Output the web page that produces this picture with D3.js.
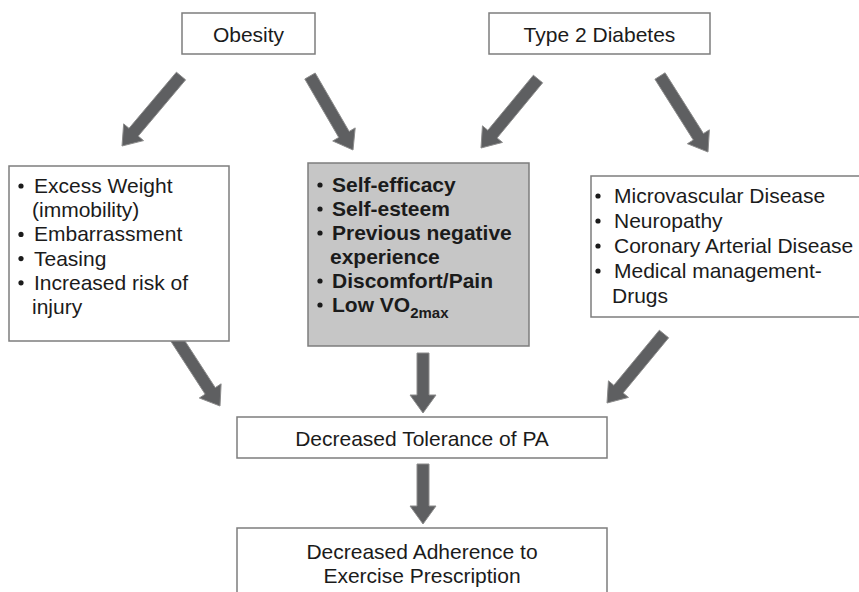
<!DOCTYPE html>
<head>
<meta charset="utf-8">
<script src="https://d3js.org/d3.v7.min.js"></script>
<style>
  body { margin: 0; background: #fff; }
  text { font-family: "Liberation Sans", Arial, Helvetica, sans-serif; fill: #1b1b1b; }
</style>
</head>
<body>
<svg id="chart"></svg>
<script>
// text content of the diagram
var causes = ["Obesity", "Type 2 Diabetes"];
var obesityItems = [["Excess Weight", "(immobility)"], ["Embarrassment"], ["Teasing"], ["Increased risk of", "injury"]];
var sharedItems = [["Self-efficacy"], ["Self-esteem"], ["Previous negative", "experience"], ["Discomfort/Pain"], ["Low VO|2max"]];
var diabetesItems = [["Microvascular Disease"], ["Neuropathy"], ["Coronary Arterial Disease"], ["Medical management-", "Drugs"]];
var outcomes = [["Decreased Tolerance of PA"], ["Decreased Adherence to", "Exercise Prescription"]];

var width = 859, height = 592;
var fs = 21;
var svg = d3.select("#chart").attr("width", width).attr("height", height);

// boxes: x, y, w, h
var boxes = [
  {x: 182, y: 13, w: 133, h: 41, fill: "#fff", lines: [causes[0]], center: true, base: 42},
  {x: 489, y: 13, w: 221, h: 41, fill: "#fff", lines: [causes[1]], center: true, base: 42},
  {x: 9, y: 166, w: 220, h: 175, fill: "#fff", items: obesityItems, bx: 21, tx: 34, base: 193, step: 24.2},
  {x: 308, y: 163, w: 221, h: 183, fill: "#c6c6c6", items: sharedItems, bx: 320, tx: 332, base: 192, step: 24, bold: true},
  {x: 591, y: 176, w: 272, h: 141, fill: "#fff", items: diabetesItems, bx: 598, tx: 614, base: 203, step: 25},
  {x: 237, y: 417, w: 370, h: 41, fill: "#fff", lines: outcomes[0], center: true, base: 446},
  {x: 237, y: 528, w: 370, h: 80, fill: "#fff", lines: outcomes[1], center: true, base: 559, step: 24}
];

var arrows = [
  {from: [181, 76], to: [122, 146]},
  {from: [310, 76], to: [353, 150]},
  {from: [538, 79], to: [481, 148]},
  {from: [660, 76], to: [708, 152]},
  {from: [172, 332], to: [220, 406]},
  {from: [664, 334], to: [607, 403]},
  {from: [423, 353], to: [423, 413]},
  {from: [423, 464], to: [423, 524]}
];

function arrowPoints(a) {
  var dx = a.to[0] - a.from[0], dy = a.to[1] - a.from[1];
  var len = Math.sqrt(dx * dx + dy * dy);
  var ux = dx / len, uy = dy / len, nx = -uy, ny = ux;
  var w = 6, hw = 13, hl = 18;
  var bx = a.to[0] - ux * hl, by = a.to[1] - uy * hl;
  return [
    [a.from[0] + nx * w, a.from[1] + ny * w],
    [bx + nx * w, by + ny * w],
    [bx + nx * hw, by + ny * hw],
    a.to,
    [bx - nx * hw, by - ny * hw],
    [bx - nx * w, by - ny * w],
    [a.from[0] - nx * w, a.from[1] - ny * w]
  ];
}

var line = d3.line();

svg.selectAll("path.arrow")
  .data(arrows)
  .enter().append("path")
  .attr("class", "arrow")
  .attr("d", function(d) { return line(arrowPoints(d)) + "Z"; })
  .style("fill", "#5e5f61")
  .style("stroke", "#8c8c8c")
  .style("stroke-width", 1)
  .style("stroke-linejoin", "miter");

svg.selectAll("rect.box")
  .data(boxes)
  .enter().append("rect")
  .attr("class", "box")
  .attr("x", function(d) { return d.x; })
  .attr("y", function(d) { return d.y; })
  .attr("width", function(d) { return d.w; })
  .attr("height", function(d) { return d.h; })
  .style("fill", function(d) { return d.fill; })
  .style("stroke", "#7d7d7d")
  .style("stroke-width", 1.5);

boxes.forEach(function(b) {
  if (b.center) {
    b.lines.forEach(function(t, i) {
      svg.append("text")
        .attr("x", b.x + b.w / 2)
        .attr("y", b.base + i * (b.step || 0))
        .attr("text-anchor", "middle")
        .style("font-size", fs + "px")
        .text(t);
    });
    return;
  }
  var row = 0;
  b.items.forEach(function(item) {
    item.forEach(function(t, j) {
      var y = b.base + row * b.step;
      if (j == 0) {
        svg.append("circle").attr("cx", b.bx).attr("cy", y - 7).attr("r", 2.6).style("fill", "#1b1b1b");
      }
      var txt = svg.append("text")
        .attr("x", b.tx - (j > 0 ? 2 : 0))
        .attr("y", y)
        .style("font-size", fs + "px")
        .style("font-weight", b.bold ? 700 : 400);
      var parts = t.split("|");
      txt.append("tspan").text(parts[0]);
      if (parts.length > 1) {
        txt.append("tspan").attr("dy", 6).style("font-size", "15px").text(parts[1]);
      }
      row++;
    });
  });
});
</script>
</body>
</html>
